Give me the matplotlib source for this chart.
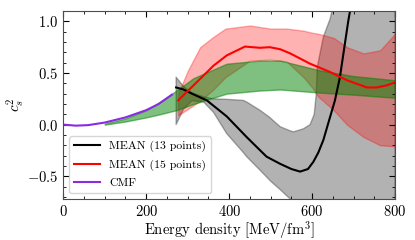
import matplotlib
matplotlib.use("Agg")
import matplotlib.pyplot as plt
from matplotlib.ticker import MultipleLocator

plt.rcParams['font.family'] = 'serif'
plt.rcParams['font.serif'] = ['cmr10']
plt.rcParams['mathtext.fontset'] = 'cm'
plt.rcParams['axes.formatter.use_mathtext'] = True

# MEAN (13 points): mean and band
e13 = [272, 290, 310, 346, 394, 442, 490, 523, 550, 571, 590, 603, 615, 627, 643, 655, 667, 687, 700, 720]
c13 = [0.36, 0.34, 0.30, 0.235, 0.08, -0.12, -0.31, -0.38, -0.43, -0.455, -0.43, -0.36, -0.27, -0.15, 0.07, 0.235, 0.46, 1.0, 1.3, 1.8]
e13_band = [272, 290, 310, 338, 362, 394, 434, 442, 474, 498, 506, 523, 547, 555, 579, 595, 605, 610, 612, 627, 643, 660, 700, 800]
c13_hi = [0.46, 0.37, 0.31, 0.27, 0.25, 0.245, 0.235, 0.22, 0.14, 0.07, 0.04, -0.02, -0.06, -0.07, -0.04, 0.0, 0.1, 0.3, 0.55, 0.85, 1.02, 1.3, 2.0, 2.5]
c13_lo = [0.0, 0.15, 0.23, 0.22, 0.12, -0.087, -0.27, -0.31, -0.44, -0.54, -0.57, -0.63, -0.72, -0.75, -0.85, -0.9, -0.95, -0.97, -0.98, -1.0, -1.05, -1.1, -1.2, -1.5]

# MEAN (15 points): mean and band
e15 = [277, 314, 362, 394, 438, 474, 498, 523, 547, 595, 643, 684, 732, 756, 780, 800]
c15 = [0.235, 0.38, 0.57, 0.67, 0.756, 0.744, 0.75, 0.73, 0.69, 0.59, 0.51, 0.43, 0.36, 0.36, 0.38, 0.41]
e15_band = [277, 300, 330, 362, 391, 450, 500, 539, 579, 600, 615, 652, 684, 724, 764, 800]
c15_hi = [0.30, 0.52, 0.75, 0.85, 0.93, 0.96, 0.93, 0.93, 0.91, 0.89, 0.88, 0.84, 0.75, 0.69, 0.72, 0.88]
c15_lo = [0.09, 0.15, 0.23, 0.34, 0.46, 0.62, 0.63, 0.61, 0.46, 0.36, 0.27, 0.14, 0.0, -0.12, -0.2, -0.21]

# green band
eg = [100, 150, 200, 233, 273, 314, 354, 394, 474, 523, 619, 700, 800]
cg_hi = [0.01, 0.06, 0.14, 0.22, 0.33, 0.45, 0.52, 0.59, 0.62, 0.62, 0.525, 0.47, 0.43]
cg_lo = [0.0, 0.03, 0.07, 0.10, 0.14, 0.20, 0.25, 0.30, 0.33, 0.34, 0.31, 0.29, 0.26]

# CMF
e_cmf = [0, 30, 60, 100, 150, 200, 230, 262]
c_cmf = [0.0, -0.01, -0.005, 0.02, 0.07, 0.14, 0.2, 0.29]

fig = plt.figure(figsize=(4.15, 2.4), dpi=100)
ax = fig.add_axes([0.1525, 0.171, 0.7995, 0.783])

ax.fill_between(e13_band, c13_lo, c13_hi, color='black', alpha=0.3)
ax.fill_between(e15_band, c15_lo, c15_hi, color='red', alpha=0.3)
ax.fill_between(eg, cg_lo, cg_hi, color='green', alpha=0.5)

ax.plot(e13, c13, color='black', lw=1.5, label='MEAN (13 points)')
ax.plot(e15, c15, color='red', lw=1.5, label='MEAN (15 points)')
ax.plot(e_cmf, c_cmf, color='blueviolet', lw=1.5, label='CMF')

ax.set_xlim(0, 800)
ax.set_ylim(-0.72, 1.1)
ax.xaxis.set_major_locator(MultipleLocator(200))
ax.xaxis.set_minor_locator(MultipleLocator(50))
ax.yaxis.set_major_locator(MultipleLocator(0.5))
ax.yaxis.set_minor_locator(MultipleLocator(0.1))
ax.tick_params(which='both', direction='in', top=True, right=True, labelsize=10.5)
ax.tick_params(which='major', length=4)
ax.tick_params(which='minor', length=2)
for s in ax.spines.values():
    s.set_color('0.3')

ax.set_xlabel('Energy density [MeV/fm$^3$]', fontsize=10.5, labelpad=0)
ax.set_ylabel('$c_s^2$', fontsize=11)
ax.yaxis.set_label_coords(-0.11, 0.5)
ax.legend(loc='lower left', fontsize=8.5, labelspacing=0.6, handlelength=2.2)

fig.savefig('out.png', dpi=100)
